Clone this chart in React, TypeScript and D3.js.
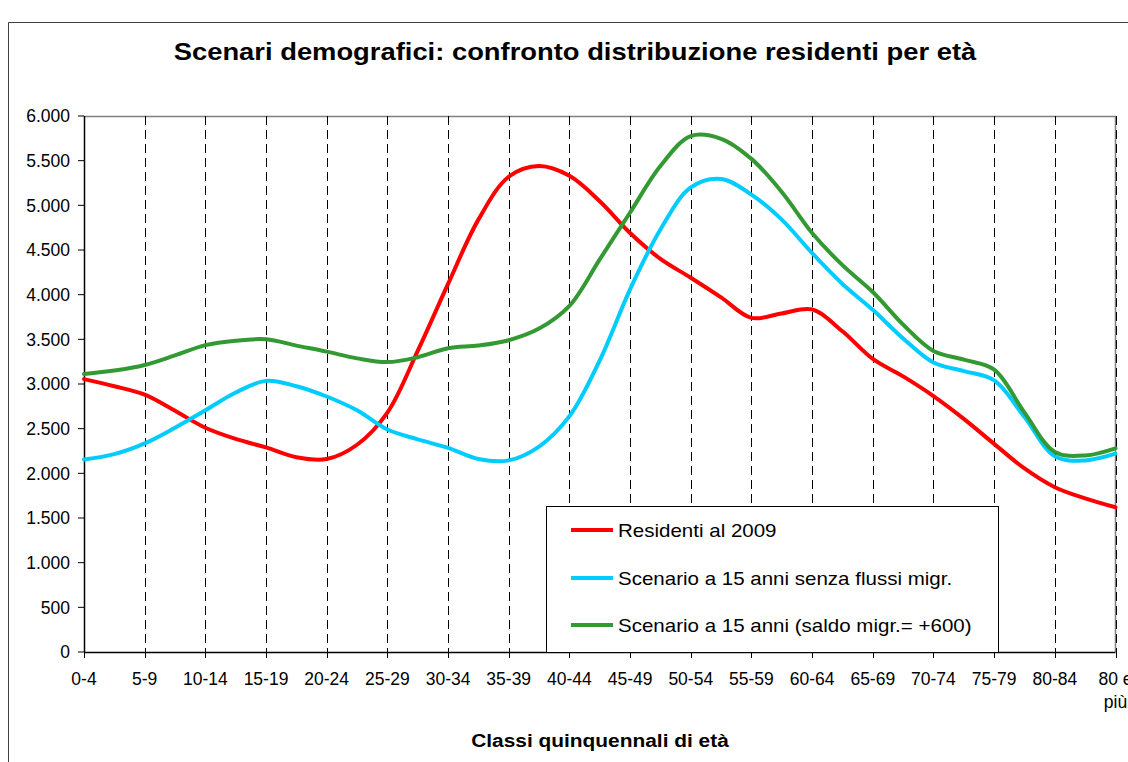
import React from "react";
import * as d3 from "d3";

// Age classes (category axis labels)
const categories = [
  "0-4", "5-9", "10-14", "15-19", "20-24", "25-29", "30-34", "35-39", "40-44",
  "45-49", "50-54", "55-59", "60-64", "65-69", "70-74", "75-79", "80-84", "80 e più",
];

// Values at every half category step (0, 0.5, 1, ... 17)
const residenti2009 = [
  3055, 2975, 2880, 2700, 2510, 2385, 2290, 2180, 2160, 2320, 2680, 3370, 4120, 4840,
  5320, 5440, 5330, 5045, 4690, 4400, 4190, 3970, 3740, 3790, 3835, 3590, 3280, 3085,
  2865, 2610, 2330, 2055, 1845, 1720, 1620,
];
const scenarioSenzaFlussi = [
  2155, 2215, 2335, 2510, 2705, 2905, 3035, 2975, 2860, 2705, 2490, 2380, 2285, 2160,
  2145, 2300, 2640, 3265, 4060, 4730, 5200, 5295, 5120, 4840, 4465, 4120, 3830, 3510,
  3240, 3145, 3040, 2630, 2190, 2145, 2220,
];
const scenarioSaldo600 = [
  3112, 3150, 3213, 3320, 3435, 3485, 3500, 3430, 3362, 3287, 3245, 3300, 3400, 3430,
  3490, 3620, 3875, 4395, 4920, 5440, 5775, 5745, 5520, 5150, 4690, 4330, 4030, 3665,
  3370, 3272, 3160, 2680, 2240, 2200, 2280,
];

const yTicks = [0, 500, 1000, 1500, 2000, 2500, 3000, 3500, 4000, 4500, 5000, 5500, 6000];

const seriesNames = [
  "Residenti al 2009",
  "Scenario a 15 anni senza flussi migr.",
  "Scenario a 15 anni (saldo migr.= +600)",
];
const seriesColors = ["#FF0000", "#00CCFF", "#339933"];
const seriesData = [residenti2009, scenarioSenzaFlussi, scenarioSaldo600];

const titleText = "Scenari demografici: confronto distribuzione residenti per età";
const xAxisTitle = "Classi quinquennali di età";

export default function App() {
  const W = 1128;
  const H = 762;
  const left = 84;
  const right = 1115.5;
  const top = 116;
  const bottom = 652;

  const x = d3.scaleLinear().domain([0, categories.length - 1]).range([left, right]);
  const y = d3.scaleLinear().domain([0, 6000]).range([bottom, top]);

  const locale = d3.formatLocale({
    decimal: ",",
    thousands: ".",
    grouping: [3],
    currency: ["€", ""],
  });
  const fmt = locale.format(",");

  const line = d3
    .line<number>()
    .x((_, i) => x(i / 2))
    .y((d) => y(d))
    .curve(d3.curveCatmullRom.alpha(0.5));

  const font = "'Liberation Sans', Arial, Helvetica, sans-serif";

  const legendX = 546;
  const legendY = 506;
  const legendW = 452;
  const legendH = 146;
  const legendRows = [530, 578, 625];

  return (
    <svg
      width={W}
      height={H}
      style={{ position: "absolute", left: 0, top: 0, background: "#fff" }}
      fontFamily={font}
    >
      <rect x={0} y={0} width={W} height={H} fill="#fff" />
      {/* chart area border */}
      <path d={`M8.5,${H} L8.5,22.5 L${W},22.5`} fill="none" stroke="#404040" strokeWidth={1} />

      {/* title */}
      <text
        transform={`translate(575,60) scale(1.19,1)`}
        textAnchor="middle"
        fontWeight="bold"
        fontSize={23}
        fill="#000"
      >
        {titleText}
      </text>

      {/* plot area border (gray) */}
      <path d={`M${left},${top + 0.5} L${right},${top + 0.5} L${right},${bottom}`} fill="none" stroke="#808080" strokeWidth={1.5} />

      {/* dashed vertical gridlines */}
      {categories.map((c, i) =>
        i === 0 ? null : (
          <line
            key={"g" + c}
            x1={Math.round(x(i)) + 0.5}
            x2={Math.round(x(i)) + 0.5}
            y1={top}
            y2={bottom}
            stroke="#000"
            strokeWidth={1}
            strokeDasharray="9,5"
          />
        )
      )}

      {/* y axis */}
      <line x1={left + 0.5} x2={left + 0.5} y1={top} y2={bottom} stroke="#000" strokeWidth={1.5} />
      {yTicks.map((t) => (
        <g key={"y" + t}>
          <line x1={left - 6} x2={left} y1={y(t)} y2={y(t)} stroke="#000" strokeWidth={1} />
          <text x={70} y={y(t)} dy="0.36em" textAnchor="end" fontSize={17.5} fill="#000">
            {fmt(t)}
          </text>
        </g>
      ))}

      {/* x axis */}
      <line x1={left} x2={right} y1={bottom + 0.5} y2={bottom + 0.5} stroke="#000" strokeWidth={1.5} />
      {categories.map((c, i) => (
        <line
          key={"xt" + c}
          x1={Math.round(x(i)) + 0.5}
          x2={Math.round(x(i)) + 0.5}
          y1={bottom}
          y2={bottom + 6}
          stroke="#000"
          strokeWidth={1}
        />
      ))}
      {categories.map((c, i) => {
        if (c === "80 e più") {
          return (
            <text key={"xl" + c} x={x(i)} y={685} textAnchor="middle" fontSize={17.5} fill="#000">
              <tspan x={x(i)} y={685}>80 e</tspan>
              <tspan x={x(i)} y={708}>più</tspan>
            </text>
          );
        }
        return (
          <text key={"xl" + c} x={x(i)} y={685} textAnchor="middle" fontSize={17.5} fill="#000">
            {c}
          </text>
        );
      })}

      {/* series */}
      {seriesData.map((s, k) => (
        <path
          key={"s" + k}
          d={line(s) || ""}
          fill="none"
          stroke={seriesColors[k]}
          strokeWidth={4}
          strokeLinejoin="round"
          strokeLinecap="round"
        />
      ))}

      {/* legend */}
      <rect x={legendX + 0.5} y={legendY + 0.5} width={legendW} height={legendH} fill="#fff" stroke="#000" strokeWidth={1} />
      {seriesNames.map((n, k) => (
        <g key={"lg" + k}>
          <line x1={571} x2={613} y1={legendRows[k]} y2={legendRows[k]} stroke={seriesColors[k]} strokeWidth={4} />
          <text
            transform={`translate(618,${legendRows[k] + 6.5}) scale(1.14,1)`}
            fontSize={18}
            fill="#000"
          >
            {n}
          </text>
        </g>
      ))}

      {/* x axis title */}
      <text
        transform={`translate(600,747) scale(1.13,1)`}
        textAnchor="middle"
        fontWeight="bold"
        fontSize={18.5}
        fill="#000"
      >
        {xAxisTitle}
      </text>
    </svg>
  );
}
